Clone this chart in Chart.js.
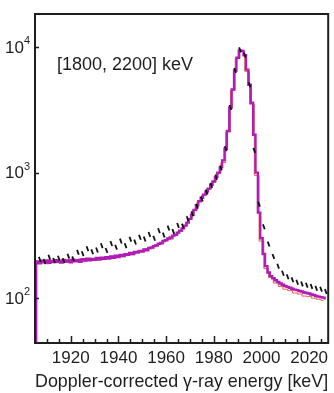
<!DOCTYPE html>
<html>
<head>
<meta charset="utf-8">
<script src="https://cdn.jsdelivr.net/npm/chart.js@4.4.1/dist/chart.umd.min.js"></script>
<style>
  html, body { margin: 0; padding: 0; background: #fff; }
  canvas { display: block; }
</style>
</head>
<body>
<canvas id="spectrum" width="334" height="393"></canvas>
<script>
// simulation (magenta), 1 keV bins
const simEnergy = [
  1905, 1906, 1907, 1908, 1909, 1910, 1911, 1912, 1913, 1914,
  1915, 1916, 1917, 1918, 1919, 1920, 1921, 1922, 1923, 1924,
  1925, 1926, 1927, 1928, 1929, 1930, 1931, 1932, 1933, 1934,
  1935, 1936, 1937, 1938, 1939, 1940, 1941, 1942, 1943, 1944,
  1945, 1946, 1947, 1948, 1949, 1950, 1951, 1952, 1953, 1954,
  1955, 1956, 1957, 1958, 1959, 1960, 1961, 1962, 1963, 1964,
  1965, 1966, 1967, 1968, 1969, 1970, 1971, 1972, 1973, 1974,
  1975, 1976, 1977, 1978, 1979, 1980, 1981, 1982, 1983, 1984,
  1985, 1986, 1987, 1988, 1989, 1990, 1991, 1992, 1993, 1994,
  1995, 1996, 1997, 1998, 1999, 2000, 2001, 2002, 2003, 2004,
  2005, 2006, 2007, 2008, 2009, 2010, 2011, 2012, 2013, 2014,
  2015, 2016, 2017, 2018, 2019, 2020, 2021, 2022, 2023, 2024,
  2025, 2026, 2027
];
const simCounts = [
  1, 196, 190, 199, 193, 200, 191, 198, 194, 201,
  195, 192, 202, 196, 200, 193, 203, 197, 201, 195,
  204, 199, 206, 200, 205, 202, 209, 203, 210, 206,
  212, 207, 215, 210, 218, 213, 221, 217, 224, 222,
  229, 225, 233, 231, 238, 236, 244, 241, 251, 254,
  260, 263, 271, 275, 285, 289, 299, 304, 315, 320,
  333, 345, 360, 378, 400, 428, 462, 505, 550, 592,
  630, 668, 705, 745, 800, 850, 920, 1000, 1100, 1250,
  1550, 2150, 3300, 4600, 6500, 8200, 9400, 9300, 8600, 6600,
  5000, 3600, 2000, 1000, 480, 300, 225, 180, 160, 150,
  144, 139, 135, 131, 128, 125, 123, 121, 119, 117,
  116, 114, 113, 111, 110, 109, 107, 106, 104, 103,
  102, 101, 100
];

// second simulation (red), 2 keV bins
const altEnergy = [
  1906, 1908, 1910, 1912, 1914, 1916, 1918, 1920, 1922, 1924,
  1926, 1928, 1930, 1932, 1934, 1936, 1938, 1940, 1942, 1944,
  1946, 1948, 1950, 1952, 1954, 1956, 1958, 1960, 1962, 1964,
  1966, 1968, 1970, 1972, 1974, 1976, 1978, 1980, 1982, 1984,
  1986, 1988, 1990, 1992, 1994, 1996, 1998, 2000, 2002, 2004,
  2006, 2008, 2010, 2012, 2014, 2016, 2018, 2020, 2022, 2024,
  2026
];
const altCounts = [
  190, 198, 188, 200, 192, 201, 194, 203, 196, 205,
  199, 208, 201, 210, 204, 214, 207, 218, 214, 226,
  222, 236, 232, 248, 248, 266, 270, 290, 295, 318,
  340, 376, 425, 500, 590, 665, 745, 845, 990, 1200,
  2100, 4500, 8100, 9200, 6400, 3500, 950, 285, 172, 146,
  132, 124, 118, 115, 110, 108, 104, 103, 100, 98,
  96
];

// measured data (black)
const dataEnergy = [
  1907, 1909, 1911, 1913, 1915, 1917, 1919, 1921, 1923, 1925,
  1927, 1929, 1931, 1933, 1935, 1937, 1939, 1941, 1943, 1945,
  1947, 1949, 1951, 1953, 1955, 1957, 1959, 1961, 1963, 1965,
  1967, 1969, 1971, 1973, 1975, 1977, 1979, 1981, 1983, 1985,
  1987, 1989, 1991, 1993, 1995, 1997, 1999, 2001, 2003, 2005,
  2007, 2009, 2011, 2013, 2015, 2017, 2019, 2021, 2023, 2025,
  2027
];
const dataCounts = [
  204, 196, 212, 200, 208, 199, 216, 206, 232, 226,
  248, 234, 242, 262, 240, 272, 255, 285, 262, 295,
  280, 305, 296, 322, 300, 345, 318, 362, 340, 380,
  375, 430, 470, 540, 615, 700, 790, 920, 1090, 1550,
  3300, 6500, 9500, 8600, 5000, 1500, 560, 370, 270, 215,
  180, 158, 148, 140, 134, 130, 127, 124, 120, 118,
  113
];

const xTicks = [1920, 1940, 1960, 1980, 2000, 2020];
const yTicks = [100, 1000, 10000];
const regionLabel = '[1800, 2200] keV';
const xTitle = 'Doppler-corrected \u03b3-ray energy [keV]';

const FONT = '"Liberation Sans", Arial, sans-serif';
const INK = '#1e1e1e';

function pairs(xs, ys) {
  return xs.map((x, i) => ({ x: x, y: ys[i] }));
}

// frame, inward ticks, y labels with exponents, annotation
const decorations = {
  id: 'decorations',
  afterDatasetsDraw(chart) {
    const { ctx, chartArea: a, scales: { x, y } } = chart;
    ctx.save();
    ctx.strokeStyle = INK;
    ctx.lineWidth = 1.5;
    ctx.beginPath();
    for (let v = 1910; v <= 2025; v += 5) {
      const px = Math.round(x.getPixelForValue(v)) + 0.5;
      const len = xTicks.includes(v) ? 7 : 4;
      ctx.moveTo(px, a.bottom);
      ctx.lineTo(px, a.bottom - len);
    }
    yTicks.forEach(v => {
      const py = Math.round(y.getPixelForValue(v)) + 0.5;
      ctx.moveTo(a.left, py);
      ctx.lineTo(a.left + 4, py);
    });
    ctx.stroke();

    ctx.lineWidth = 2;
    ctx.strokeRect(a.left, a.top, a.right - a.left, a.bottom - a.top);

    ctx.fillStyle = INK;
    ctx.textBaseline = 'middle';
    yTicks.forEach(v => {
      const py = y.getPixelForValue(v);
      const exp = String(Math.round(Math.log10(v)));
      ctx.font = '11px ' + FONT;
      const ew = ctx.measureText(exp).width;
      ctx.textAlign = 'left';
      ctx.fillText(exp, a.left - 5 - ew, py - 6);
      ctx.font = '17px ' + FONT;
      ctx.textAlign = 'right';
      ctx.fillText('10', a.left - 5 - ew, py + 1);
    });

    ctx.font = '18px ' + FONT;
    ctx.textAlign = 'left';
    ctx.fillText(regionLabel, a.left + 22, a.top + 51);
    ctx.restore();
  }
};

new Chart(document.getElementById('spectrum'), {
  type: 'line',
  data: {
    datasets: [
      {
        label: 'data',
        data: pairs(dataEnergy, dataCounts),
        showLine: false,
        pointStyle: 'line',
        rotation: 70,
        pointRadius: 2.6,
        borderColor: '#111',
        borderWidth: 1.8,
      },
      {
        label: 'simulation',
        data: pairs(simEnergy, simCounts),
        stepped: 'middle',
        borderColor: '#b01cb4',
        borderWidth: 2.4,
        pointRadius: 0,
        fill: false,
      },
      {
        label: 'simulation 2',
        data: pairs(altEnergy, altCounts),
        stepped: 'middle',
        borderColor: 'rgba(225, 60, 40, 0.8)',
        borderWidth: 1,
        pointRadius: 0,
        fill: false,
      },
    ],
  },
  options: {
    responsive: false,
    animation: false,
    layout: { padding: { top: 14, right: 3, left: 0, bottom: 0 } },
    plugins: {
      legend: { display: false },
      tooltip: { enabled: false },
    },
    scales: {
      x: {
        type: 'linear',
        min: 1905,
        max: 2028,
        grid: { display: false, drawTicks: false },
        border: { display: false },
        afterBuildTicks: s => { s.ticks = xTicks.map(v => ({ value: v })); },
        afterFit: s => { s.height = 50; s.paddingLeft = 0; s.paddingRight = 0; },
        ticks: {
          padding: 5,
          color: INK,
          font: { family: FONT, size: 17 },
          callback: v => String(v),
        },
        title: {
          display: true,
          text: xTitle,
          color: INK,
          font: { family: FONT, size: 19 },
          padding: { top: 0, bottom: 0 },
        },
      },
      y: {
        type: 'logarithmic',
        min: 44,
        max: 18300,
        grid: { display: false, drawTicks: false },
        border: { display: false },
        afterBuildTicks: s => { s.ticks = yTicks.map(v => ({ value: v })); },
        afterFit: s => { s.width = 35; s.paddingTop = 0; s.paddingBottom = 0; },
        ticks: { display: false },
      },
    },
  },
  plugins: [decorations],
});
</script>
</body>
</html>
